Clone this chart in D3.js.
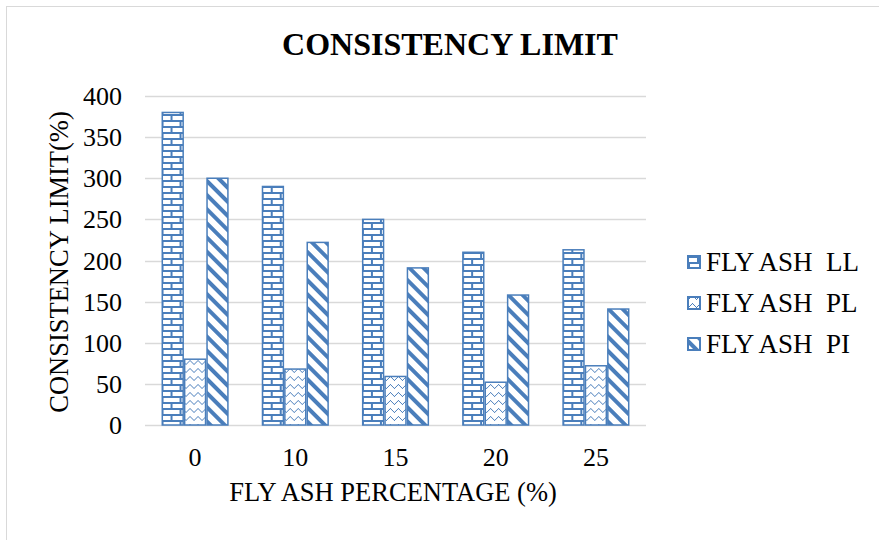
<!DOCTYPE html>
<html>
<head>
<meta charset="utf-8">
<script src="https://cdn.jsdelivr.net/npm/d3@7"></script>
<style>
  body { margin: 0; background: #fff; }
  svg text { font-family: "Liberation Serif", "Times New Roman", "DejaVu Serif", serif; fill: #000; }
</style>
</head>
<body>
<div id="chart"></div>
<script>
// chart data
const categories = ["0", "10", "15", "20", "25"];
const seriesNames = ["FLY ASH\u00a0 LL", "FLY ASH\u00a0 PL", "FLY ASH\u00a0 PI"];
const llValues = [380, 290, 250, 210, 213];
const plValues = [80, 68, 59, 52, 72];
const piValues = [300, 222, 191, 158, 141];
const yTicks = [0, 50, 100, 150, 200, 250, 300, 350, 400];

const blue = "#4a7ebb";
const serif = "'Liberation Serif', 'Times New Roman', serif";
const width = 879, height = 540;
const margin = { top: 96, left: 145, right: 233, bottom: 115 };
const plotW = width - margin.left - margin.right;
const plotH = height - margin.top - margin.bottom;

const svg = d3.select("#chart").append("svg")
    .attr("width", width)
    .attr("height", height)
    .attr("font-family", serif);

// patterns
const defs = svg.append("defs");

// horizontal brick
const brick = defs.append("pattern")
    .attr("id", "pat-ll")
    .attr("patternUnits", "userSpaceOnUse")
    .attr("width", 18).attr("height", 12);
brick.append("rect").attr("width", 18).attr("height", 12).attr("fill", "#fff");
brick.append("path")
    .attr("d", "M0,1H18 M0,7H18 M1,1V7 M10,7V13")
    .attr("stroke", blue).attr("stroke-width", 2).attr("fill", "none");

// dotted chevrons
const zig = defs.append("pattern")
    .attr("id", "pat-pl")
    .attr("patternUnits", "userSpaceOnUse")
    .attr("width", 8).attr("height", 8);
zig.append("rect").attr("width", 8).attr("height", 8).attr("fill", "#fff");
[[0, 4], [2, 2], [4, 0], [6, 2], [1, 3], [3, 1], [5, 1], [7, 3]].forEach(p => {
    zig.append("rect").attr("x", p[0]).attr("y", p[1])
        .attr("width", 1).attr("height", 1).attr("fill", blue);
});

// wide downward diagonal
const diag = defs.append("pattern")
    .attr("id", "pat-pi")
    .attr("patternUnits", "userSpaceOnUse")
    .attr("width", 10).attr("height", 10)
    .attr("patternTransform", "rotate(-45)");
diag.append("rect").attr("width", 10).attr("height", 10).attr("fill", "#fff");
diag.append("rect").attr("x", 0).attr("y", 0).attr("width", 4).attr("height", 10).attr("fill", blue);

const fills = ["url(#pat-ll)", "url(#pat-pl)", "url(#pat-pi)"];

// outer frame
svg.append("rect")
    .attr("x", 6.5).attr("y", 6.5)
    .attr("width", width + 10).attr("height", height + 10)
    .attr("fill", "none").attr("stroke", "#d9d9d9");

const g = svg.append("g")
    .attr("transform", "translate(" + margin.left + "," + margin.top + ")");

const x0 = d3.scaleBand().domain(categories).range([0, plotW]).paddingInner(0.33).paddingOuter(0.165);
const x1 = d3.scaleBand().domain(d3.range(3)).range([0, x0.bandwidth()]);
const y = d3.scaleLinear().domain([0, 400]).range([plotH, 0]);

// gridlines
g.selectAll(".grid")
    .data(yTicks)
    .enter().append("line")
    .attr("class", "grid")
    .attr("x1", 0).attr("x2", plotW)
    .attr("y1", d => Math.round(y(d)) + 0.5).attr("y2", d => Math.round(y(d)) + 0.5)
    .attr("stroke", "#d9d9d9").attr("stroke-width", 1.3);

// bars
const rows = categories.map((c, i) => ({ cat: c, vals: [llValues[i], plValues[i], piValues[i]] }));

const groups = g.selectAll(".group")
    .data(rows)
    .enter().append("g")
    .attr("class", "group")
    .attr("transform", d => "translate(" + x0(d.cat) + ",0)");

groups.selectAll("rect")
    .data(d => d.vals.map((v, k) => ({ k: k, v: v })))
    .enter().append("rect")
    .attr("x", d => x1(d.k) + 0.75)
    .attr("y", d => y(d.v))
    .attr("width", x1.bandwidth() - 1.5)
    .attr("height", d => y(0) - y(d.v))
    .attr("fill", d => fills[d.k])
    .attr("stroke", blue).attr("stroke-width", 1.5);

// y axis labels
g.selectAll(".ytick")
    .data(yTicks)
    .enter().append("text")
    .attr("class", "ytick")
    .attr("x", -23)
    .attr("y", d => y(d))
    .attr("dy", "0.35em")
    .attr("text-anchor", "end")
    .attr("font-size", 26)
    .text(d => d);

// x axis labels
g.selectAll(".xtick")
    .data(categories)
    .enter().append("text")
    .attr("class", "xtick")
    .attr("x", d => x0(d) + x0.bandwidth() / 2)
    .attr("y", plotH + 41)
    .attr("text-anchor", "middle")
    .attr("font-size", 26)
    .text(d => d);

// titles
svg.append("text")
    .attr("x", 450).attr("y", 55)
    .attr("text-anchor", "middle")
    .attr("font-size", 32).attr("font-weight", "bold")
    .text("CONSISTENCY LIMIT");

svg.append("text")
    .attr("x", 393).attr("y", 501)
    .attr("text-anchor", "middle")
    .attr("font-size", 26.5)
    .text("FLY ASH PERCENTAGE (%)");

svg.append("text")
    .attr("transform", "translate(68,262) rotate(-90)")
    .attr("text-anchor", "middle")
    .attr("font-size", 26.5)
    .text("CONSISTENCY LIMIT(%)");

// legend
const legend = svg.selectAll(".legend")
    .data(seriesNames)
    .enter().append("g")
    .attr("class", "legend")
    .attr("transform", (d, i) => "translate(688," + (262 + i * 41) + ")");

legend.append("rect")
    .attr("x", 0).attr("y", -6)
    .attr("width", 12).attr("height", 12)
    .attr("fill", (d, i) => fills[i])
    .attr("stroke", blue).attr("stroke-width", 2);

legend.append("text")
    .attr("x", 18).attr("y", 0)
    .attr("dy", "0.35em")
    .attr("font-size", 27)
    .text(d => d);
</script>
</body>
</html>
